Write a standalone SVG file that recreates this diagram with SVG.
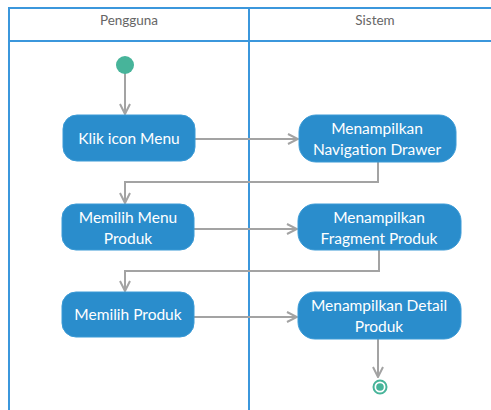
<svg xmlns="http://www.w3.org/2000/svg" width="491" height="410" viewBox="0 0 491 410">
<defs>
<style>
.lane{fill:none;stroke:#3b97dc;stroke-width:2}
.hdr{font-family:Lato,"Open Sans",sans-serif;font-size:13.5px;fill:#666;text-anchor:middle}
.node rect{fill:#2a8dcc;stroke:#3a9ad6;stroke-width:1}
.node text{font-family:Lato,"Open Sans",sans-serif;font-size:15.5px;fill:#ffffff;text-anchor:middle}
.conn{fill:none;stroke:#a3a3a3;stroke-width:2}
</style>
<marker id="arr" viewBox="0 0 12 12" refX="11" refY="6" markerWidth="12" markerHeight="12" markerUnits="userSpaceOnUse" orient="auto">
<path d="M1,1 L11,6 L1,11" fill="none" stroke="#a3a3a3" stroke-width="2"/>
</marker>
</defs>
<rect width="491" height="410" fill="#ffffff"/>
<g id="lanes">
<path class="lane" d="M9,410 V8 H491 M9,41 H491 M249,8 V410"/>
<text class="hdr" x="129" y="25">Pengguna</text>
<text class="hdr" x="375" y="25">Sistem</text>
</g>
<g id="connectors">
<path class="conn" d="M125,72 V114" marker-end="url(#arr)"/>
<path class="conn" d="M195,139 H298" marker-end="url(#arr)"/>
<path class="conn" d="M378,162 V182 H125 V203" marker-end="url(#arr)"/>
<path class="conn" d="M194,229 H297" marker-end="url(#arr)"/>
<path class="conn" d="M379,250 V271 H125 V291" marker-end="url(#arr)"/>
<path class="conn" d="M194,317 H297" marker-end="url(#arr)"/>
<path class="conn" d="M378,339 V377" marker-end="url(#arr)"/>
</g>
<g id="start"><circle cx="125" cy="65" r="9" fill="#47b49a"/></g>
<g id="klik" class="node"><rect x="63" y="115" width="132" height="46" rx="14"/><text x="129" y="144">Klik icon Menu</text></g>
<g id="navdrawer" class="node"><rect x="299" y="115" width="157" height="47" rx="17"/><text x="377" y="134">Menampilkan</text><text x="377" y="155">Navigation Drawer</text></g>
<g id="memilihmenu" class="node"><rect x="62" y="204" width="132" height="46" rx="14"/><text x="128" y="223">Memilih Menu</text><text x="128" y="244">Produk</text></g>
<g id="fragment" class="node"><rect x="298" y="204" width="163" height="46" rx="17"/><text x="379" y="223">Menampilkan</text><text x="379" y="244">Fragment Produk</text></g>
<g id="memilihproduk" class="node"><rect x="62" y="292" width="132" height="45" rx="14"/><text x="128" y="320">Memilih Produk</text></g>
<g id="detail" class="node"><rect x="298" y="292" width="163" height="47" rx="17"/><text x="379" y="311">Menampilkan Detail</text><text x="379" y="332">Produk</text></g>
<g id="end"><circle cx="380" cy="387" r="6.5" fill="#ffffff" stroke="#47b49a" stroke-width="2"/><circle cx="380" cy="387" r="3.8" fill="#47b49a"/></g>
</svg>
